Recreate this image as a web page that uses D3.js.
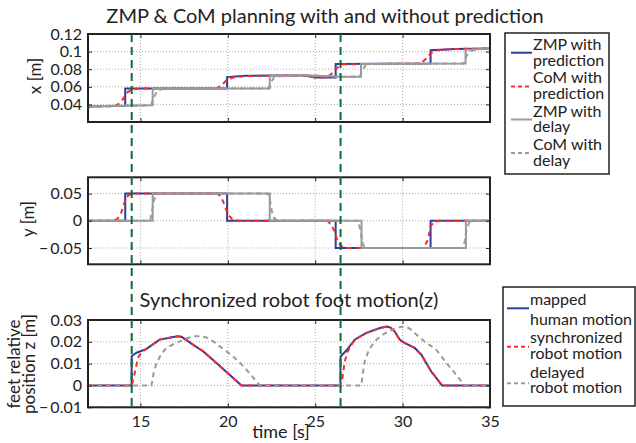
<!DOCTYPE html>
<html>
<head>
<meta charset="utf-8">
<script src="https://cdn.jsdelivr.net/npm/d3@7"></script>
<style>
  body { margin: 0; background: #fff; }
  svg { font-family: Lato, "Noto Sans", sans-serif; fill: #222; }
</style>
</head>
<body>
<svg id="chart" width="636" height="443"></svg>
<script>
// time axis
var xTicks = [15, 20, 25, 30, 35]
var syncTimes = [14.5, 26.45]

// panel 1: x [m]
var xTickVals = [0.04, 0.06, 0.08, 0.1, 0.12]
var xTickLabels = ['0.04', '0.06', '0.08', '0.1', '0.12']
var zmpPredX = [[12,0.0375],[14.13,0.0385],[14.13,0.058],[19.96,0.058],[19.96,0.071],[21,0.0725],[24.3,0.073],[25.0,0.0705],[26.17,0.0705],[26.17,0.086],[31.6,0.0865],[31.6,0.1015],[33,0.103],[35,0.1035]]
var comPredX = [[12,0.0375],[13.5,0.038],[13.8,0.041],[14.0,0.046],[14.2,0.053],[14.5,0.057],[15,0.058],[19.3,0.058],[19.6,0.061],[19.9,0.067],[20.3,0.0705],[21,0.0722],[24.3,0.073],[25,0.0705],[25.6,0.0705],[25.9,0.074],[26.2,0.081],[26.6,0.0855],[31.0,0.0865],[31.3,0.091],[31.6,0.098],[32,0.1015],[33,0.103],[35,0.1035]]
var zmpDelayX = [[12,0.038],[15.7,0.039],[15.7,0.058],[22.4,0.058],[22.4,0.072],[24,0.0735],[26.5,0.0715],[27.62,0.0715],[27.62,0.086],[33.6,0.0865],[33.6,0.102],[35,0.1035]]
var comDelayX = [[12,0.038],[15.6,0.039],[15.75,0.047],[15.95,0.055],[16.3,0.058],[22.3,0.058],[22.45,0.065],[22.65,0.0705],[23,0.072],[24,0.0735],[26.5,0.0715],[27.55,0.0715],[27.7,0.079],[27.9,0.0845],[28.2,0.086],[33.5,0.0865],[33.65,0.095],[33.85,0.1005],[34.3,0.103],[35,0.1035]]

// panel 2: y [m]
var yTickVals = [-0.05, 0, 0.05]
var yTickLabels = ['\u2212\u20090.05', '0', '0.05']
var zmpPredY = [[12,0],[14.13,0],[14.13,0.05],[19.96,0.05],[19.96,0],[26.17,0],[26.17,-0.05],[31.6,-0.05],[31.6,0],[35,0]]
var comPredY = [[12,0],[13.4,0],[13.7,0.004],[13.9,0.015],[14.1,0.035],[14.3,0.047],[14.6,0.05],[19.4,0.05],[19.6,0.045],[19.8,0.03],[20.0,0.012],[20.25,0.003],[20.6,0],[25.7,0],[25.9,-0.007],[26.1,-0.019],[26.3,-0.04],[26.6,-0.049],[26.9,-0.05],[31.2,-0.05],[31.45,-0.035],[31.6,-0.01],[31.8,-0.002],[32.1,0],[35,0]]
var zmpDelayY = [[12,0],[15.7,0],[15.7,0.05],[22.4,0.05],[22.4,0],[27.65,0],[27.65,-0.05],[33.62,-0.05],[33.62,0],[35,0]]
var comDelayY = [[12,0],[15.55,0],[15.65,0.015],[15.75,0.035],[15.9,0.048],[16.1,0.05],[22.3,0.05],[22.4,0.04],[22.5,0.02],[22.65,0.005],[22.85,0],[27.45,0],[27.55,-0.012],[27.65,-0.03],[27.75,-0.045],[27.95,-0.05],[33.45,-0.05],[33.55,-0.038],[33.65,-0.018],[33.8,-0.004],[34.0,0],[35,0]]

// panel 3: feet z [m]
var zTickVals = [-0.01, 0, 0.01, 0.02, 0.03]
var zTickLabels = ['\u2212\u20090.01', '0', '0.01', '0.02', '0.03']
var humanZ = [[12,0],[14.49,0],[14.5,0.0135],[14.78,0.015],[15.35,0.0168],[16.1,0.021],[16.6,0.0218],[17.1,0.0225],[17.35,0.0223],[17.6,0.021],[18.0,0.0187],[18.6,0.0156],[19.35,0.0103],[20.1,0.0049],[20.78,0],[26.44,0],[26.45,0.0133],[26.78,0.016],[27.26,0.021],[27.9,0.024],[28.7,0.0263],[29.1,0.027],[29.3,0.0265],[29.54,0.0248],[29.83,0.021],[30.11,0.0195],[30.69,0.0172],[31.07,0.0141],[31.64,0.0064],[32.26,0],[35,0]]
var syncZ = [[12,0],[14.5,0],[14.6,0.003],[14.69,0.0064],[14.8,0.0105],[14.9,0.0133],[15.1,0.0155],[15.35,0.0168],[16.1,0.021],[16.6,0.0218],[17.1,0.0225],[17.35,0.0223],[17.6,0.021],[18.0,0.0187],[18.6,0.0156],[19.35,0.0103],[20.1,0.0049],[20.78,0],[26.45,0],[26.55,0.003],[26.69,0.011],[26.85,0.0155],[27.26,0.021],[27.9,0.024],[28.7,0.0263],[29.1,0.027],[29.3,0.0265],[29.54,0.0248],[29.83,0.021],[30.11,0.0195],[30.69,0.0172],[31.07,0.0141],[31.64,0.0064],[32.26,0],[35,0]]
var delayZ = [[12,0],[15.63,0],[15.75,0.0055],[15.92,0.0103],[16.2,0.0145],[16.49,0.0172],[16.9,0.019],[17.26,0.0202],[17.6,0.0215],[18.02,0.0225],[18.4,0.0226],[18.78,0.022],[19.15,0.0203],[19.54,0.0179],[19.9,0.0158],[20.3,0.0133],[20.7,0.0103],[21.07,0.0072],[21.45,0.0036],[21.83,0],[27.64,0],[27.72,0.0055],[27.83,0.011],[28.0,0.0148],[28.21,0.018],[28.5,0.021],[28.87,0.0233],[29.25,0.025],[29.64,0.0263],[29.95,0.0269],[30.2,0.027],[30.45,0.0258],[30.69,0.024],[31.0,0.0218],[31.35,0.0195],[31.65,0.018],[31.92,0.0164],[32.2,0.0136],[32.5,0.0103],[32.8,0.0075],[33.07,0.0049],[33.3,0.0024],[33.54,0],[35,0]]

var blue = '#2b3f9b', red = '#ff2828', gray = '#9a9a9a', green = '#0b6e35'

var svg = d3.select('#chart')
var x = d3.scaleLinear().domain([12, 35]).range([88, 490])

var panels = [
  { top: 34, bottom: 122, domain: [0.02, 0.12], ticks: xTickVals, labels: xTickLabels,
    series: [zmpPredX, comPredX, zmpDelayX, comDelayX] },
  { top: 177.3, bottom: 264.3, domain: [-0.08, 0.08], ticks: yTickVals, labels: yTickLabels,
    series: [zmpPredY, comPredY, zmpDelayY, comDelayY] },
  { top: 320, bottom: 407.3, domain: [-0.01, 0.03], ticks: zTickVals, labels: zTickLabels,
    series: [humanZ, syncZ, null, delayZ], xLabels: true }
]

var styles = [
  { color: blue, dash: null },
  { color: red, dash: '5,4' },
  { color: gray, dash: null },
  { color: gray, dash: '5,4' }
]

panels.forEach(function(p) {
  var y = d3.scaleLinear().domain(p.domain).range([p.bottom, p.top])
  var g = svg.append('g')

  // dotted grid
  g.selectAll('line.vg')
    .data(xTicks.filter(function(t) { return t < 35 }))
    .enter().append('line')
    .attr('x1', function(d) { return x(d) }).attr('x2', function(d) { return x(d) })
    .attr('y1', p.top).attr('y2', p.bottom)
    .attr('stroke', '#aaa').attr('stroke-width', 1).attr('stroke-dasharray', '1,2')
  g.selectAll('line.hg')
    .data(p.ticks.filter(function(t) { return y(t) > p.top + 1 }))
    .enter().append('line')
    .attr('x1', x(12)).attr('x2', x(35))
    .attr('y1', function(d) { return y(d) }).attr('y2', function(d) { return y(d) })
    .attr('stroke', '#aaa').attr('stroke-width', 1).attr('stroke-dasharray', '1,2')

  var line = d3.line().x(function(d) { return x(d[0]) }).y(function(d) { return y(d[1]) })
  p.series.forEach(function(s, i) {
    if (!s) return
    g.append('path')
      .attr('d', line(s))
      .attr('fill', 'none')
      .attr('stroke', styles[i].color)
      .attr('stroke-width', 2)
      .attr('stroke-dasharray', styles[i].dash)
  })

  // ticks inside the box
  var left = d3.axisLeft(y).tickValues(p.ticks).tickSizeInner(-4).tickSizeOuter(0).tickFormat(function(d, i) { return p.labels[i] })
  var ga = g.append('g').attr('transform', 'translate(' + x(12) + ',0)').call(left)
  ga.select('.domain').remove()
  ga.selectAll('line').attr('stroke', '#222')
  ga.selectAll('text').attr('x', -6).attr('font-size', 16).attr('font-family', 'Lato').attr('fill', '#222')

  var right = d3.axisRight(y).tickValues(p.ticks).tickSizeInner(-4).tickSizeOuter(0).tickFormat('')
  var gr = g.append('g').attr('transform', 'translate(' + x(35) + ',0)').call(right)
  gr.select('.domain').remove()
  gr.selectAll('line').attr('stroke', '#222')

  var bottom = d3.axisBottom(x).tickValues(xTicks).tickSizeInner(-4).tickSizeOuter(0)
    .tickFormat(p.xLabels ? d3.format('d') : '')
  var gb = g.append('g').attr('transform', 'translate(0,' + p.bottom + ')').call(bottom)
  gb.select('.domain').remove()
  gb.selectAll('line').attr('stroke', '#222')
  gb.selectAll('text').attr('y', 8).attr('font-size', 16).attr('font-family', 'Lato').attr('fill', '#222')

  var top = d3.axisTop(x).tickValues(xTicks).tickSizeInner(-4).tickSizeOuter(0).tickFormat('')
  var gt = g.append('g').attr('transform', 'translate(0,' + p.top + ')').call(top)
  gt.select('.domain').remove()
  gt.selectAll('line').attr('stroke', '#222')

  g.append('rect')
    .attr('x', x(12)).attr('y', p.top)
    .attr('width', x(35) - x(12)).attr('height', p.bottom - p.top)
    .attr('fill', 'none').attr('stroke', '#222').attr('stroke-width', 2)
})

// synchronisation markers
svg.selectAll('line.sync')
  .data(syncTimes)
  .enter().append('line')
  .attr('x1', function(d) { return x(d) }).attr('x2', function(d) { return x(d) })
  .attr('y1', 34).attr('y2', 408)
  .attr('stroke', green).attr('stroke-width', 2).attr('stroke-dasharray', '8,5')

// titles and labels
svg.append('text').attr('x', 325).attr('y', 23).attr('text-anchor', 'middle')
  .attr('font-size', 20).text('ZMP & CoM planning with and without prediction')
svg.append('text').attr('x', 289).attr('y', 306.5).attr('text-anchor', 'middle')
  .attr('font-size', 20).text('Synchronized robot foot motion(z)')
svg.append('text').attr('x', 281).attr('y', 438).attr('text-anchor', 'middle')
  .attr('font-size', 18).text('time [s]')
svg.append('text').attr('transform', 'translate(41,76) rotate(-90)').attr('text-anchor', 'middle')
  .attr('font-size', 17).text('x [m]')
svg.append('text').attr('transform', 'translate(34,219) rotate(-90)').attr('text-anchor', 'middle')
  .attr('font-size', 17).text('y [m]')
svg.append('text').attr('transform', 'translate(20,364) rotate(-90)').attr('text-anchor', 'middle')
  .attr('font-size', 17).text('feet relative')
svg.append('text').attr('transform', 'translate(35,364) rotate(-90)').attr('text-anchor', 'middle')
  .attr('font-size', 17).text('position z [m]')

// legends
function legend(box, entries) {
  var g = svg.append('g')
  g.append('rect').attr('x', box[0]).attr('y', box[1]).attr('width', box[2]).attr('height', box[3])
    .attr('fill', '#fff').attr('stroke', '#222').attr('stroke-width', 1.5)
  entries.forEach(function(e) {
    g.append('line').attr('x1', e.x1).attr('x2', e.x2).attr('y1', e.ly).attr('y2', e.ly)
      .attr('stroke', styles[e.style].color).attr('stroke-width', 2)
      .attr('stroke-dasharray', styles[e.style].dash ? '4,3' : null)
    var t = g.append('text').attr('font-size', 16)
    e.lines.forEach(function(s, k) {
      t.append('tspan').attr('x', e.x2 + 1).attr('y', e.base[k]).text(s)
    })
  })
}

legend([505, 33, 104, 141], [
  { style: 0, x1: 511, x2: 532, ly: 52.7, lines: ['ZMP with', 'prediction'], base: [50, 65.5] },
  { style: 1, x1: 511, x2: 532, ly: 86.5, lines: ['CoM with', 'prediction'], base: [83.3, 98.8] },
  { style: 2, x1: 511, x2: 532, ly: 119.5, lines: ['ZMP with', 'delay'], base: [116.6, 132] },
  { style: 3, x1: 511, x2: 532, ly: 153, lines: ['CoM with', 'delay'], base: [150, 165.5] }
])
legend([503, 287, 132, 119], [
  { style: 0, x1: 507, x2: 529, ly: 308.3, lines: ['mapped', 'human motion'], base: [305, 325] },
  { style: 1, x1: 507, x2: 529, ly: 346.7, lines: ['synchronized', 'robot motion'], base: [343.3, 359] },
  { style: 3, x1: 507, x2: 529, ly: 383.3, lines: ['delayed', 'robot motion'], base: [377.7, 393.3] }
])
</script>
</body>
</html>
